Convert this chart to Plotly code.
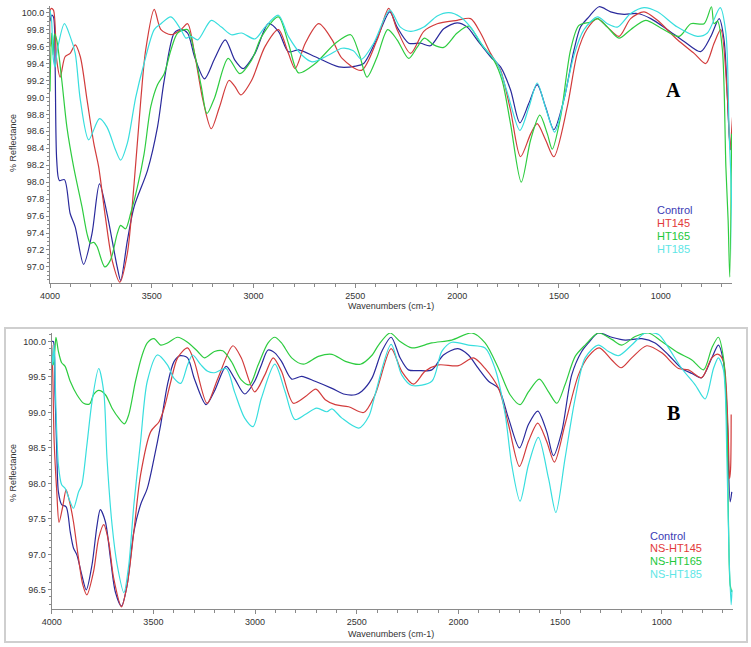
import plotly.graph_objects as go

W, H = 751, 647

# ---------------- Panel A data (wavenumber, % reflectance) ----------------
a_control_x = [4000, 3992, 3983, 3975, 3967, 3954, 3929, 3901, 3876, 3835, 3794, 3757, 3720, 3670, 3653, 3620, 3587, 3521, 3472, 3439, 3390, 3357, 3324, 3290, 3241, 3191, 3139, 3092, 3051, 2993, 2927, 2878, 2829, 2779, 2697, 2581, 2498, 2459, 2393, 2331, 2295, 2238, 2180, 2131, 2066, 2000, 1951, 1902, 1836, 1787, 1738, 1692, 1648, 1607, 1566, 1525, 1476, 1426, 1394, 1353, 1303, 1246, 1180, 1115, 1049, 967, 885, 804, 754, 713, 689, 664, 656]
a_control_y = [99.90, 99.97, 99.95, 99.40, 98.26, 98.02, 98.03, 97.63, 97.47, 97.03, 97.39, 97.98, 97.63, 97.00, 96.84, 97.31, 97.71, 98.14, 98.65, 99.20, 99.76, 99.80, 99.76, 99.48, 99.22, 99.46, 99.68, 99.44, 99.34, 99.52, 99.87, 99.78, 99.54, 99.56, 99.48, 99.36, 99.37, 99.40, 99.70, 100.01, 99.83, 99.64, 99.64, 99.61, 99.81, 99.88, 99.83, 99.68, 99.48, 99.36, 99.09, 98.70, 98.93, 99.15, 98.89, 98.62, 98.97, 99.56, 99.83, 99.95, 100.07, 100.01, 99.98, 99.99, 99.93, 99.80, 99.66, 99.54, 99.72, 99.93, 99.68, 98.57, 98.38]

a_ht145_x = [4000, 3995, 3983, 3967, 3950, 3926, 3901, 3876, 3851, 3818, 3785, 3761, 3728, 3695, 3657, 3620, 3587, 3554, 3530, 3488, 3455, 3406, 3357, 3324, 3290, 3249, 3208, 3167, 3121, 3092, 3063, 3010, 2944, 2878, 2829, 2796, 2746, 2680, 2614, 2565, 2470, 2393, 2336, 2295, 2229, 2164, 2098, 2000, 1934, 1885, 1836, 1787, 1738, 1689, 1639, 1607, 1566, 1525, 1459, 1410, 1361, 1311, 1262, 1205, 1148, 1082, 1016, 918, 836, 779, 738, 705, 672, 659, 652, 647]
a_ht145_y = [99.60, 100.05, 100.03, 99.44, 99.24, 99.48, 99.52, 99.62, 99.48, 98.97, 98.46, 98.18, 97.59, 97.08, 96.82, 97.16, 97.98, 98.97, 99.56, 100.04, 99.80, 99.74, 99.80, 99.87, 99.52, 98.97, 98.63, 98.89, 99.20, 99.13, 99.03, 99.20, 99.60, 99.80, 99.52, 99.34, 99.64, 99.87, 99.68, 99.46, 99.32, 99.68, 100.05, 99.80, 99.52, 99.78, 99.87, 99.91, 99.93, 99.76, 99.52, 99.32, 98.85, 98.30, 98.57, 98.69, 98.50, 98.30, 98.89, 99.52, 99.81, 99.93, 99.83, 99.72, 99.93, 100.01, 99.91, 99.68, 99.52, 99.40, 99.64, 99.80, 98.97, 98.38, 98.60, 98.78]

a_ht165_x = [4000, 3992, 3985, 3978, 3967, 3942, 3917, 3884, 3843, 3818, 3802, 3785, 3769, 3731, 3703, 3670, 3653, 3629, 3604, 3571, 3538, 3505, 3472, 3439, 3406, 3373, 3324, 3290, 3257, 3229, 3191, 3125, 3068, 3010, 2960, 2878, 2829, 2779, 2697, 2598, 2523, 2482, 2443, 2393, 2341, 2295, 2238, 2197, 2161, 2115, 2066, 2000, 1943, 1885, 1820, 1779, 1738, 1685, 1639, 1594, 1557, 1533, 1492, 1443, 1402, 1344, 1311, 1262, 1205, 1148, 1074, 1000, 910, 852, 787, 751, 738, 721, 697, 680, 669, 661, 652]
a_ht165_y = [99.07, 99.76, 99.50, 99.75, 99.68, 99.20, 98.65, 98.18, 97.71, 97.39, 97.28, 97.29, 97.24, 97.00, 97.08, 97.39, 97.49, 97.45, 97.63, 97.94, 98.33, 98.89, 99.15, 99.28, 99.56, 99.76, 99.80, 99.52, 99.13, 98.81, 99.00, 99.46, 99.28, 99.44, 99.72, 99.95, 99.64, 99.29, 99.40, 99.64, 99.74, 99.52, 99.24, 99.48, 99.80, 99.68, 99.46, 99.59, 99.70, 99.62, 99.59, 99.76, 99.84, 99.64, 99.44, 99.20, 98.69, 98.00, 98.50, 98.79, 98.57, 98.39, 98.77, 99.56, 99.85, 99.89, 99.93, 99.83, 99.70, 99.80, 99.91, 99.82, 99.72, 99.87, 99.87, 100.07, 99.87, 99.90, 99.56, 98.18, 97.55, 96.88, 98.57]

a_ht185_x = [4000, 3992, 3983, 3975, 3964, 3929, 3901, 3876, 3851, 3810, 3757, 3720, 3678, 3653, 3620, 3579, 3538, 3488, 3455, 3406, 3357, 3332, 3307, 3274, 3208, 3158, 3109, 3059, 2993, 2944, 2878, 2829, 2763, 2713, 2631, 2565, 2510, 2470, 2410, 2331, 2279, 2229, 2164, 2098, 2041, 1984, 1934, 1869, 1803, 1754, 1692, 1648, 1607, 1566, 1521, 1476, 1426, 1377, 1311, 1262, 1213, 1148, 1082, 1016, 918, 820, 771, 708, 680, 664, 656, 650, 647]
a_ht185_y = [100.03, 99.90, 99.44, 99.36, 99.56, 99.87, 99.72, 99.52, 98.97, 98.50, 98.75, 98.65, 98.38, 98.26, 98.46, 99.00, 99.40, 99.80, 99.87, 99.95, 99.80, 99.70, 99.72, 99.68, 99.91, 99.83, 99.74, 99.76, 99.69, 99.83, 99.97, 99.72, 99.50, 99.42, 99.50, 99.58, 99.55, 99.45, 99.64, 100.03, 99.83, 99.78, 99.83, 99.96, 100.00, 99.95, 99.83, 99.59, 99.40, 99.06, 98.61, 98.88, 99.17, 98.88, 98.59, 98.97, 99.50, 99.80, 99.95, 99.87, 99.83, 99.99, 100.06, 100.01, 99.83, 99.72, 99.76, 100.06, 99.76, 98.57, 98.10, 97.60, 97.08]

# ---------------- Panel B data ----------------
b_control_x = [4000, 3992, 3984, 3975, 3967, 3951, 3929, 3909, 3893, 3876, 3852, 3830, 3802, 3777, 3761, 3736, 3711, 3687, 3657, 3629, 3596, 3563, 3530, 3497, 3464, 3431, 3398, 3368, 3332, 3299, 3241, 3200, 3142, 3101, 3051, 3002, 2969, 2936, 2903, 2870, 2820, 2771, 2705, 2622, 2565, 2507, 2475, 2426, 2377, 2331, 2287, 2246, 2197, 2131, 2074, 2003, 1951, 1902, 1852, 1803, 1754, 1700, 1656, 1610, 1566, 1533, 1492, 1443, 1394, 1361, 1312, 1246, 1180, 1098, 1033, 967, 902, 852, 804, 754, 722, 697, 680, 664, 656]
b_control_y = [100.00, 100.00, 99.29, 98.45, 97.88, 97.70, 97.67, 97.32, 97.09, 96.99, 96.71, 96.50, 96.85, 97.41, 97.63, 97.46, 96.94, 96.47, 96.27, 96.57, 97.32, 97.70, 97.93, 98.35, 98.83, 99.39, 99.72, 99.80, 99.77, 99.48, 99.11, 99.30, 99.65, 99.48, 99.26, 99.44, 99.67, 99.88, 99.84, 99.72, 99.47, 99.51, 99.44, 99.34, 99.26, 99.25, 99.30, 99.48, 99.86, 100.06, 99.77, 99.60, 99.59, 99.60, 99.81, 99.90, 99.81, 99.62, 99.44, 99.34, 98.92, 98.50, 98.83, 99.02, 98.73, 98.39, 98.73, 99.53, 99.86, 99.98, 100.12, 100.06, 100.02, 100.04, 99.98, 99.81, 99.62, 99.55, 99.49, 99.77, 99.95, 99.72, 99.06, 97.74, 97.88]

b_ht145_x = [4000, 3995, 3988, 3975, 3964, 3946, 3929, 3909, 3893, 3868, 3847, 3827, 3794, 3769, 3744, 3720, 3695, 3657, 3629, 3596, 3563, 3513, 3472, 3447, 3414, 3381, 3332, 3299, 3236, 3183, 3109, 3068, 3002, 2952, 2911, 2870, 2812, 2754, 2701, 2655, 2606, 2540, 2466, 2410, 2331, 2279, 2221, 2164, 2098, 2000, 1926, 1869, 1803, 1754, 1700, 1656, 1610, 1566, 1528, 1476, 1410, 1361, 1308, 1246, 1200, 1148, 1074, 1000, 918, 869, 804, 754, 722, 697, 675, 667, 662, 659]
b_ht145_y = [99.95, 99.58, 98.59, 97.88, 97.45, 97.67, 97.91, 97.70, 97.46, 96.94, 96.57, 96.43, 96.76, 97.23, 97.42, 97.18, 96.66, 96.26, 96.57, 97.32, 98.12, 98.73, 98.87, 99.06, 99.44, 99.77, 99.91, 99.72, 99.13, 99.48, 99.94, 99.77, 99.29, 99.53, 99.77, 99.58, 99.13, 99.22, 99.33, 99.18, 99.11, 99.08, 99.00, 99.25, 99.90, 99.58, 99.40, 99.58, 99.67, 99.66, 99.77, 99.62, 99.34, 98.83, 98.24, 98.59, 98.85, 98.59, 98.30, 98.83, 99.53, 99.79, 99.91, 99.74, 99.63, 99.77, 99.94, 99.84, 99.62, 99.60, 99.49, 99.77, 99.82, 99.72, 98.82, 98.07, 98.20, 98.97]

b_ht165_x = [4000, 3992, 3985, 3979, 3967, 3951, 3934, 3909, 3876, 3843, 3814, 3794, 3769, 3736, 3703, 3670, 3642, 3621, 3588, 3555, 3530, 3497, 3464, 3431, 3381, 3332, 3282, 3249, 3200, 3159, 3117, 3068, 3027, 2985, 2936, 2903, 2870, 2820, 2763, 2689, 2622, 2556, 2482, 2424, 2393, 2336, 2287, 2229, 2131, 2033, 1934, 1869, 1803, 1746, 1697, 1656, 1602, 1557, 1516, 1476, 1426, 1377, 1312, 1246, 1197, 1131, 1066, 1000, 918, 852, 795, 754, 722, 697, 680, 672, 664, 656]
b_ht165_y = [99.77, 99.67, 99.86, 100.06, 99.86, 99.70, 99.65, 99.44, 99.25, 99.13, 99.12, 99.25, 99.31, 99.25, 99.06, 98.92, 98.84, 98.97, 99.44, 99.81, 99.98, 100.04, 99.95, 99.98, 100.06, 99.99, 99.86, 99.77, 99.86, 99.87, 99.72, 99.46, 99.39, 99.67, 99.98, 100.06, 99.98, 99.77, 99.68, 99.79, 99.82, 99.72, 99.68, 99.81, 99.95, 100.12, 100.00, 99.91, 99.98, 100.02, 100.12, 99.98, 99.62, 99.25, 99.11, 99.29, 99.47, 99.29, 99.13, 99.39, 99.79, 99.95, 100.12, 100.03, 99.95, 100.07, 100.12, 100.00, 99.84, 99.74, 99.60, 99.91, 100.06, 99.77, 98.82, 97.41, 96.57, 96.47]

b_ht185_x = [4000, 3995, 3988, 3979, 3967, 3951, 3934, 3913, 3893, 3868, 3852, 3827, 3802, 3769, 3744, 3728, 3703, 3678, 3645, 3621, 3596, 3563, 3530, 3480, 3431, 3398, 3365, 3332, 3307, 3266, 3233, 3200, 3142, 3101, 3051, 3010, 2969, 2903, 2853, 2804, 2754, 2697, 2647, 2622, 2573, 2490, 2440, 2410, 2331, 2279, 2229, 2131, 2082, 2033, 1951, 1869, 1820, 1770, 1738, 1697, 1656, 1607, 1557, 1521, 1476, 1426, 1377, 1312, 1262, 1213, 1148, 1082, 1016, 967, 902, 836, 787, 746, 722, 697, 680, 669, 659, 655]
b_ht185_y = [99.91, 99.67, 99.95, 99.06, 98.26, 97.98, 97.93, 97.77, 97.65, 97.88, 97.98, 98.54, 99.15, 99.62, 99.29, 98.35, 97.41, 96.85, 96.46, 96.85, 97.70, 98.59, 99.44, 99.81, 99.67, 99.48, 99.41, 99.67, 99.81, 99.67, 99.58, 99.56, 99.62, 99.29, 98.92, 98.80, 99.20, 99.68, 99.30, 98.90, 98.97, 99.06, 99.01, 99.05, 98.92, 98.78, 98.95, 99.25, 99.96, 99.53, 99.38, 99.44, 99.86, 99.99, 99.95, 99.91, 99.62, 98.97, 98.26, 97.75, 98.26, 98.65, 98.07, 97.59, 98.35, 99.20, 99.77, 99.95, 99.86, 99.80, 99.95, 100.12, 100.10, 99.91, 99.62, 99.39, 99.19, 99.62, 99.77, 99.60, 98.35, 96.94, 96.29, 96.50]

x_tick_vals = [4000, 3500, 3000, 2500, 2000, 1500, 1000]
legend_a = ["Control", "HT145", "HT165", "HT185"]
legend_b = ["Control", "NS-HT145", "NS-HT165", "NS-HT185"]

line_colors = ["#2a2a9c", "#d23c3c", "#2ecc40", "#38dede"]
text_colors = ["#3b3bb5", "#e23a3a", "#22c83a", "#5ee6e6"]

fig = go.Figure()

series_a = [(a_control_x, a_control_y), (a_ht145_x, a_ht145_y), (a_ht165_x, a_ht165_y), (a_ht185_x, a_ht185_y)]
series_b = [(b_control_x, b_control_y), (b_ht145_x, b_ht145_y), (b_ht165_x, b_ht165_y), (b_ht185_x, b_ht185_y)]

for i, (xs, ys) in enumerate(series_a):
    fig.add_trace(go.Scatter(x=xs, y=ys, mode="lines", name=legend_a[i],
                             line=dict(color=line_colors[i], width=1.2, shape="spline", smoothing=0.8),
                             xaxis="x", yaxis="y", showlegend=False))
for i, (xs, ys) in enumerate(series_b):
    fig.add_trace(go.Scatter(x=xs, y=ys, mode="lines", name=legend_b[i],
                             line=dict(color=line_colors[i], width=1.2, shape="spline", smoothing=0.8),
                             xaxis="x2", yaxis="y2", showlegend=False))

def px_x(p):
    return p / W

def px_y(p):
    return 1 - p / H

font_fam = "Liberation Sans, Arial, sans-serif"
tick_font = dict(family=font_fam, size=9, color="#333333")

xcommon = dict(range=[4000, 650], tickvals=x_tick_vals, ticktext=[str(v) for v in x_tick_vals],
               showline=True, linecolor="#8a8a8a", linewidth=1, ticks="outside", ticklen=4,
               tickcolor="#8a8a8a", tickfont=tick_font, showgrid=False, zeroline=False, automargin=False,
               minor=dict(dtick=100, tick0=0, ticks="outside", ticklen=3, tickcolor="#8a8a8a"))

fig.update_layout(
    width=W, height=H, margin=dict(l=0, r=0, t=0, b=0, autoexpand=False),
    paper_bgcolor="white", plot_bgcolor="white",
    xaxis=dict(domain=[px_x(50), px_x(732)], anchor="y", **xcommon),
    xaxis2=dict(domain=[px_x(51.7), px_x(733)], anchor="y2", **xcommon),
    yaxis=dict(domain=[px_y(283), px_y(5.9)], range=[96.81, 100.08], anchor="x", automargin=False,
               tickvals=[97.0 + 0.2 * k for k in range(16)], tickformat=".1f",
               showline=True, linecolor="#8a8a8a", linewidth=1, ticks="outside", ticklen=3,
               tickcolor="#8a8a8a", tickfont=tick_font, showgrid=False, zeroline=False,
               minor=dict(dtick=0.05, tick0=0, ticks="outside", ticklen=2, tickcolor="#8a8a8a")),
    yaxis2=dict(domain=[px_y(609), px_y(333)], range=[96.23, 100.12], anchor="x2", automargin=False,
                tickvals=[96.5, 97.0, 97.5, 98.0, 98.5, 99.0, 99.5, 100.0], tickformat=".1f",
                showline=True, linecolor="#8a8a8a", linewidth=1, ticks="outside", ticklen=3,
                tickcolor="#8a8a8a", tickfont=tick_font, showgrid=False, zeroline=False,
                minor=dict(dtick=0.1, tick0=0, ticks="outside", ticklen=2, tickcolor="#8a8a8a")),
)

annotations = []
# axis titles
for ty in (306, 634):
    annotations.append(dict(x=px_x(391), y=px_y(ty), xref="paper", yref="paper", text="Wavenumbers (cm-1)",
                            xanchor="center", yanchor="middle",
                            showarrow=False, font=dict(family=font_fam, size=9, color="#333333")))
for ty in (143, 473):
    annotations.append(dict(x=px_x(13), y=px_y(ty), xref="paper", yref="paper", text="% Reflectance",
                            xanchor="center", yanchor="middle",
                            textangle=-90, showarrow=False, font=dict(family=font_fam, size=9, color="#333333")))
# panel letters
annotations.append(dict(x=px_x(673), y=px_y(90), xref="paper", yref="paper", text="<b>A</b>", showarrow=False,
                        xanchor="center", yanchor="middle",
                        font=dict(family="Liberation Serif, Times New Roman, serif", size=20, color="black")))
annotations.append(dict(x=px_x(673), y=px_y(413), xref="paper", yref="paper", text="<b>B</b>", showarrow=False,
                        xanchor="center", yanchor="middle",
                        font=dict(family="Liberation Serif, Times New Roman, serif", size=20, color="black")))
# legends as coloured text
for i, name in enumerate(legend_a):
    annotations.append(dict(x=px_x(655), y=px_y(210 + 13 * i), xref="paper", yref="paper", text=name,
                            xanchor="left", yanchor="middle", showarrow=False,
                            font=dict(family=font_fam, size=11, color=text_colors[i])))
for i, name in enumerate(legend_b):
    annotations.append(dict(x=px_x(648), y=px_y(535.5 + 12.8 * i), xref="paper", yref="paper", text=name,
                            xanchor="left", yanchor="middle", showarrow=False,
                            font=dict(family=font_fam, size=11, color=text_colors[i])))

fig.update_layout(annotations=annotations)

fig.add_shape(type="rect", xref="paper", yref="paper",
              x0=px_x(5), x1=px_x(747), y0=px_y(642), y1=px_y(328),
              line=dict(color="#cfcfcf", width=2), fillcolor="rgba(0,0,0,0)", layer="below")

fig.write_html("out.html", config={"displayModeBar": False},
               post_script="document.body.style.margin='0';document.body.style.overflow='hidden';")
